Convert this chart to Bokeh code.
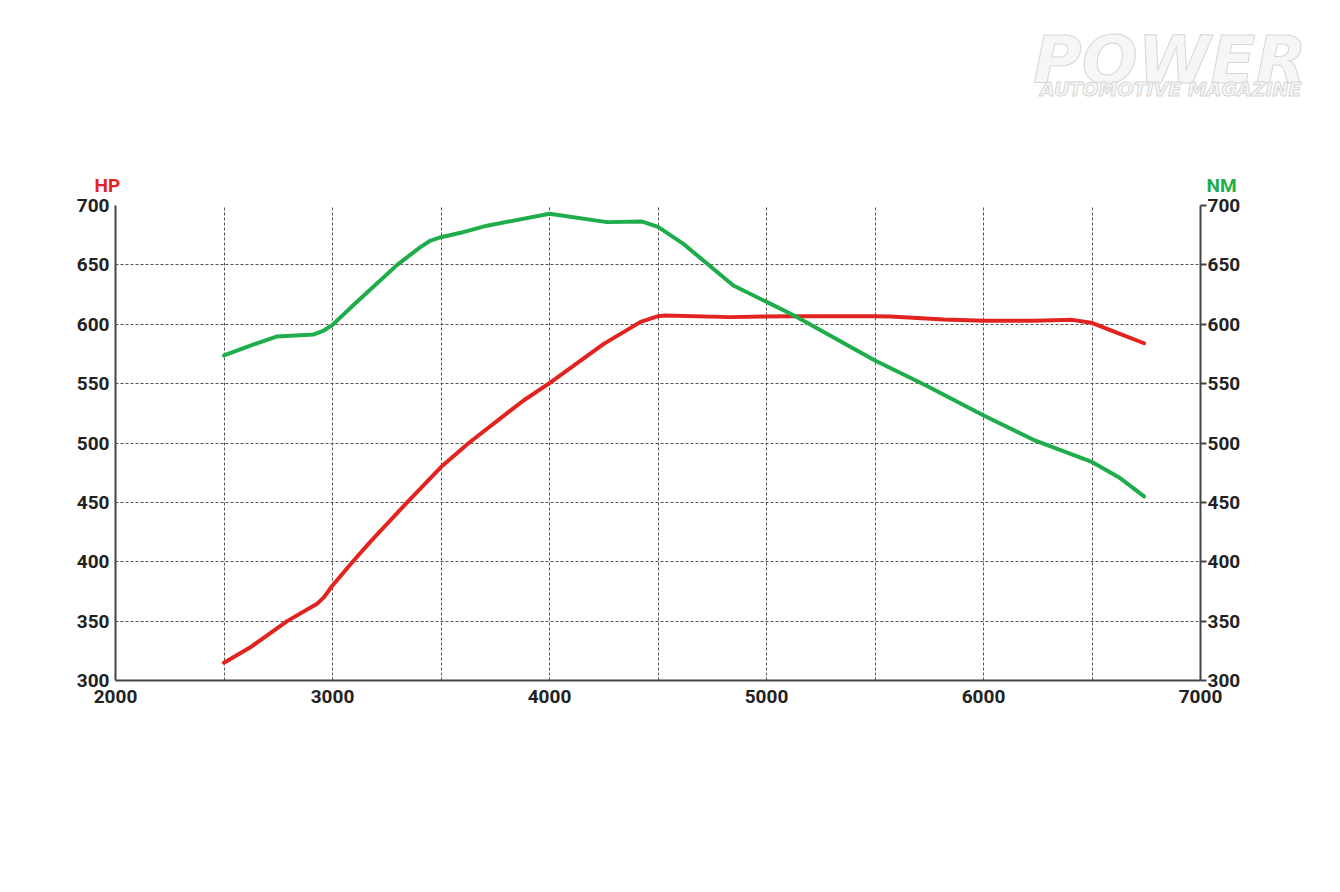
from bokeh.plotting import figure
from bokeh.models import Range1d, LinearAxis, FixedTicker
from bokeh.layouts import column
from bokeh.core.properties import value
from bokeh.embed import file_html
from bokeh.resources import INLINE

# RPM and curve data
hp_rpm = [2500, 2622, 2791, 2929, 2960, 3000, 3098, 3175, 3344, 3500, 3628, 3818, 3882, 4000, 4250, 4420, 4500, 4535, 4831, 5111, 5500, 5571, 5818, 6003, 6230, 6410, 6502, 6608, 6740]
hp_val = [315, 328, 350, 364.6, 370, 380, 401, 417, 450, 479.7, 500, 527, 536, 550.4, 583.5, 602, 606.8, 607.4, 606, 606.8, 606.8, 606.5, 604, 603, 603, 603.7, 601, 593.3, 584]

nm_rpm = [2500, 2622, 2745, 2914, 2960, 3000, 3098, 3298, 3405, 3452, 3500, 3590, 3712, 4000, 4265, 4427, 4500, 4617, 4847, 5003, 5127, 5500, 5735, 6003, 6230, 6502, 6625, 6740]
nm_val = [573.7, 582, 589.7, 591.4, 594.7, 599.5, 616.4, 650, 665, 670.5, 673.3, 677, 683, 693, 686, 686.5, 682, 667.7, 632.6, 618.6, 607.4, 569.5, 548.4, 523, 502.7, 483.8, 471, 455]

x_ticks = [2000, 3000, 4000, 5000, 6000, 7000]
y_ticks = [300, 350, 400, 450, 500, 550, 600, 650, 700]

FONT = "Roboto"
W = 1330
HT = 196            # header strip height (HP / NM / logo)
HM = 684            # main chart height
FL, FT, FR, FB = 115, 205, 1200, 680   # frame edges in page pixels

# ---------- header strip ----------
top = figure(width=W, height=HT, output_backend="svg", toolbar_location=None,
             x_range=Range1d(0, W), y_range=Range1d(HT, 0),
             x_axis_type=None, y_axis_type=None,
             min_border=0, min_border_left=0, min_border_right=0, min_border_top=0, min_border_bottom=0)
top.outline_line_color = None
top.background_fill_color = "white"
top.border_fill_color = "white"

# main chart
p = figure(width=W, height=HM, output_backend="svg", toolbar_location=None,
           x_range=Range1d(2000, 7000), y_range=Range1d(300, 700),
           min_border_left=FL, min_border_right=W - FR, min_border_top=FT - HT, min_border_bottom=HT + HM - FB)

try:
    top.frame_align = False
    p.frame_align = False
except Exception:
    top.x_range = Range1d(FL, FR)

def htext(fig, x, y, text, size, color, align="left", font=FONT, style="bold", outline=None):
    fig.text(x=[x], y=[y], text=[text], text_align=align, text_baseline="middle",
             text_font=value(font), text_font_style=style, text_font_size=value(size),
             text_color=color, text_outline_color=outline)

htext(top, 94, 185, "HP", "19px", "#e3231f")
htext(top, 1206, 185, "NM", "19px", "#1fad4b")
htext(top, 1306, 60, "POWER", "66px", "#f6f6f6", align="right", font="DejaVu Sans", style="bold italic", outline="#d6d6d6")
htext(top, 1301, 88, "AUTOMOTIVE MAGAZINE", "19px", "#f6f6f6", align="right", font="DejaVu Sans", style="bold italic", outline="#d6d6d6")

p.extra_y_ranges = {"nm": Range1d(300, 700)}
p.outline_line_color = None
p.background_fill_color = "white"
p.border_fill_color = "white"

p.xgrid.ticker = FixedTicker(ticks=[2500, 3000, 3500, 4000, 4500, 5000, 5500, 6000, 6500])
p.ygrid.ticker = FixedTicker(ticks=y_ticks)
for g in (p.xgrid, p.ygrid):
    g.grid_line_color = "#555555"
    g.grid_line_dash = "3 2"
    g.grid_line_width = 1

def style_axis(ax, tick_out=0):
    ax.axis_line_color = "#444444"
    ax.axis_line_width = 2
    ax.major_tick_out = tick_out
    ax.major_tick_in = 0
    ax.minor_tick_out = 0
    ax.minor_tick_in = 0
    ax.major_tick_line_color = "#444444"
    ax.major_tick_line_width = 2
    ax.major_label_text_font = FONT
    ax.major_label_text_font_style = "bold"
    ax.major_label_text_font_size = "19px"
    ax.major_label_text_color = "#222222"

style_axis(p.xaxis[0])
p.xaxis[0].ticker = FixedTicker(ticks=x_ticks)
p.xaxis[0].major_label_standoff = 9
style_axis(p.yaxis[0])
p.yaxis[0].ticker = FixedTicker(ticks=y_ticks)
p.yaxis[0].major_label_standoff = 6

ax_r = LinearAxis(y_range_name="nm", ticker=FixedTicker(ticks=y_ticks))
style_axis(ax_r, tick_out=6)
ax_r.major_label_standoff = 1
p.add_layout(ax_r, "right")

p.line(hp_rpm, hp_val, line_color="#e3231f", line_width=4, line_join="round", line_cap="round")
p.line(nm_rpm, nm_val, line_color="#1fad4b", line_width=4, line_join="round", line_cap="round", y_range_name="nm")

layout = column(top, p, spacing=0)
open("out.html", "w").write(file_html(layout, INLINE))
